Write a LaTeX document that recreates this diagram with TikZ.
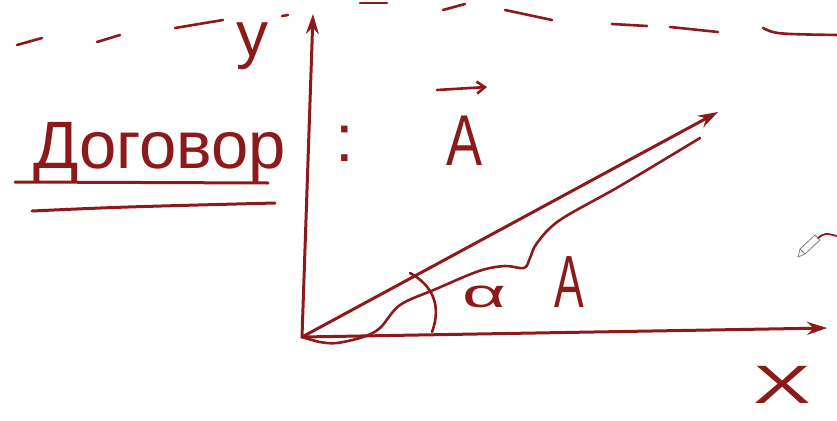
\documentclass[tikz,border=0pt]{standalone}
\usepackage{fontspec}
\setmainfont{Liberation Sans}
\usetikzlibrary{arrows.meta}
\definecolor{ink}{RGB}{140,26,26}
\definecolor{pencilgray}{RGB}{125,125,125}
\begin{document}
\begin{tikzpicture}[x=1pt,y=-1pt,
  inkline/.style={draw=ink, line width=3pt, line cap=round, line join=round},
  thinink/.style={inkline, line width=2.6pt},
  axis/.style={inkline, -{Stealth[length=20pt,width=13pt]}},
  hand/.style={text=ink, inner sep=0pt}]
\fill[white] (0,0) rectangle (837,420);
\useasboundingbox (0,0) rectangle (837,420);

% top dashed stroke
\draw[thinink] (17,45) -- (42,38);
\draw[thinink] (97,42) -- (120,35);
\draw[thinink] (175,28) -- (223,20);
\draw[thinink] (282,16) -- (288,15);
\draw[thinink] (360,3) -- (387,3);
\draw[thinink] (443,10) -- (465,4);
\draw[thinink] (505,10) -- (552,20);
\draw[thinink] (612,24) -- (647,26);
\draw[thinink] (670,27) -- (718,32);
\draw[thinink] (763,28) .. controls (775,34) .. (837,35);

% axes and vector
\coordinate (O) at (302,337);
\coordinate (Ytip) at (313,14);
\coordinate (Xtip) at (827,328);
\coordinate (Atip) at (718,112);
\draw[axis] (O) -- (Ytip);
\draw[axis] (O) -- (Xtip);
\draw[axis] (O) -- (Atip);

% wavy trace under the vector
\draw[thinink] plot[smooth, tension=0.55] coordinates {(302,337) (320,342) (337,343) (363,337) (380,328) (400,305) (436,289) (479,271) (505,266) (524,268) (530,258) (537,243) (560,220) (620,186) (700,138)};

% angle arc
\draw[thinink] (410,273) .. controls (432,285) and (442,305) .. (432,332);

% labels
\node[hand, font=\fontsize{64}{64}\selectfont] (ylab) at (252,46) {y};
\node[hand, anchor=base west, font=\fontsize{67}{67}\selectfont] (word) at (33,168) {Договор};
\node[hand, anchor=base, font=\fontsize{67}{67}\selectfont] (colon) at (345,161) {:};
\node[hand, anchor=base, font=\fontsize{72}{72}\selectfont] (vecA) at (465,165) {\scalebox{0.75}[1]{A}};
\coordinate (vs) at (437,90);
\coordinate (ve) at (487,87);
\draw[thinink, -{Straight Barb[length=8pt,width=12pt]}] (vs) -- (ve);
\node[hand, anchor=base, font=\fontsize{74}{74}\selectfont] (scalA) at (569,307) {\scalebox{0.6}[1]{A}};
\node[hand, font=\fontsize{40}{40}\selectfont] (alpha) at (484,297) {\scalebox{1.9}[1]{α}};
\node[hand, font=\fontsize{54}{54}\selectfont] (xlab) at (782,385) {\scalebox{1.6}[1]{X}};

% underlines
\draw[inkline] (15,182) -- (268,183);
\draw[inkline] (32,211) .. controls (120,207) .. (275,203);

% pen cursor
\draw[pencilgray, fill=white, line width=0.8pt, line join=round] (798,257) -- (800,249) -- (815,235) -- (820,240) -- (805,254) -- cycle;
\draw[pencilgray, line width=0.8pt] (800,249) -- (805,254);
\draw[thinink, line width=1.8pt] (818,238) .. controls (825,233) .. (837,236);
\end{tikzpicture}
\end{document}
